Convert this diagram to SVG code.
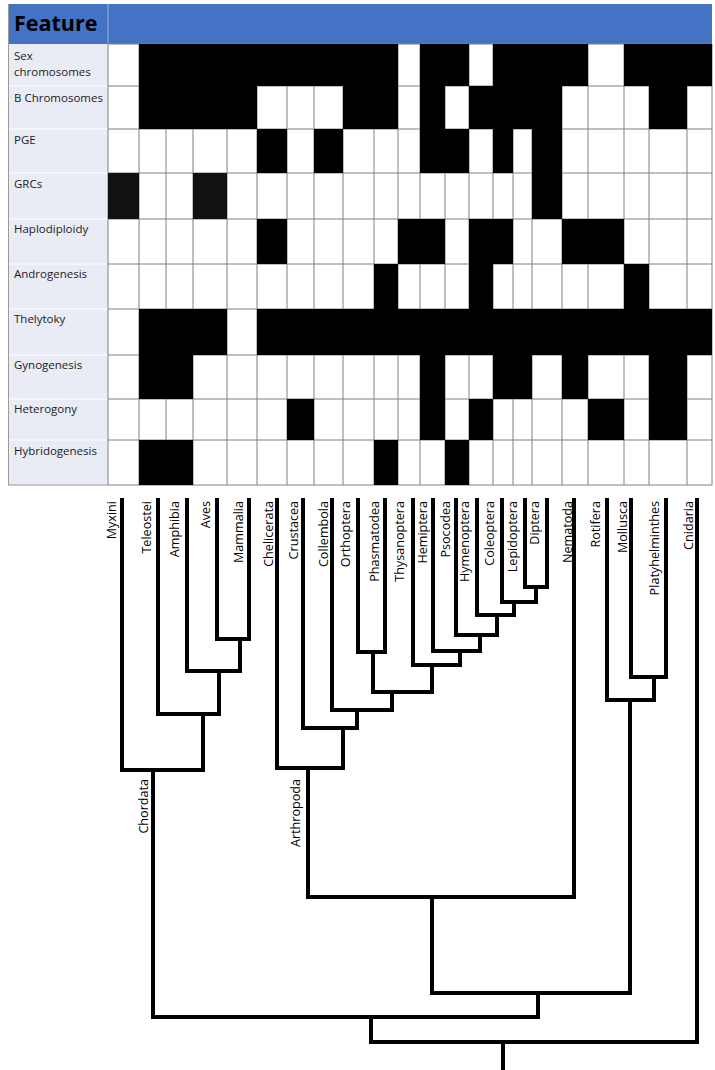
<svg xmlns="http://www.w3.org/2000/svg" width="715" height="1070" viewBox="0 0 715 1070">
<style>
.hdr{fill:#4472c4}
.lab{fill:#e9ebf5}
.sep{stroke:#ffffff;stroke-width:1.2}
.grid{stroke:#808080;stroke-width:1;fill:none}
.blk{fill:#000000}
.ftxt{font-family:"Open Sans","Liberation Sans",sans-serif;font-size:11.5px;fill:#222222}
.htxt{font-family:"Open Sans","Liberation Sans",sans-serif;font-size:21.5px;font-weight:bold;fill:#000000}
.tip{font-family:"Open Sans","Liberation Sans",sans-serif;font-size:12.6px;fill:#000000}
.br{fill:none;stroke:#000000;stroke-width:4;stroke-linecap:square;stroke-linejoin:miter}
</style>
<rect width="715" height="1070" fill="#ffffff"/>

<g id="header">
<rect class="hdr" x="8" y="4" width="704" height="40"/>
<line x1="108" y1="4" x2="108" y2="44" stroke="#9db3e0" stroke-width="1"/>
<text class="htxt" x="14" y="31">Feature</text>
</g>

<g id="feature-labels">
<rect class="lab" x="8" y="44" width="100" height="441"/>
<g class="sep">
<line x1="8" y1="86" x2="108" y2="86"/><line x1="8" y1="129" x2="108" y2="129"/><line x1="8" y1="173" x2="108" y2="173"/><line x1="8" y1="219" x2="108" y2="219"/><line x1="8" y1="264" x2="108" y2="264"/><line x1="8" y1="309" x2="108" y2="309"/><line x1="8" y1="355" x2="108" y2="355"/><line x1="8" y1="399" x2="108" y2="399"/><line x1="8" y1="440" x2="108" y2="440"/>
</g>
<line x1="8.5" y1="4" x2="8.5" y2="485" stroke="#9a9a9a" stroke-width="1"/>
<line x1="8" y1="485" x2="108" y2="485" stroke="#9a9a9a" stroke-width="1"/>
<text class="ftxt" x="14" y="60">Sex</text>
<text class="ftxt" x="14" y="76">chromosomes</text>
<text class="ftxt" x="14" y="102">B Chromosomes</text>
<text class="ftxt" x="14" y="144">PGE</text>
<text class="ftxt" x="14" y="188">GRCs</text>
<text class="ftxt" x="14" y="233">Haplodiploidy</text>
<text class="ftxt" x="14" y="278">Androgenesis</text>
<text class="ftxt" x="14" y="323">Thelytoky</text>
<text class="ftxt" x="14" y="369">Gynogenesis</text>
<text class="ftxt" x="14" y="413">Heterogony</text>
<text class="ftxt" x="14" y="455">Hybridogenesis</text>
</g>

<g id="matrix">
<rect x="108" y="44" width="604" height="441" fill="#ffffff"/>
<g class="grid">
<line x1="108" y1="44" x2="108" y2="485"/><line x1="139" y1="44" x2="139" y2="485"/><line x1="166" y1="44" x2="166" y2="485"/><line x1="193" y1="44" x2="193" y2="485"/><line x1="227" y1="44" x2="227" y2="485"/><line x1="257" y1="44" x2="257" y2="485"/><line x1="287" y1="44" x2="287" y2="485"/><line x1="314" y1="44" x2="314" y2="485"/><line x1="343" y1="44" x2="343" y2="485"/><line x1="374" y1="44" x2="374" y2="485"/><line x1="398" y1="44" x2="398" y2="485"/><line x1="420" y1="44" x2="420" y2="485"/><line x1="445" y1="44" x2="445" y2="485"/><line x1="469" y1="44" x2="469" y2="485"/><line x1="493" y1="44" x2="493" y2="485"/><line x1="513" y1="44" x2="513" y2="485"/><line x1="532" y1="44" x2="532" y2="485"/><line x1="562" y1="44" x2="562" y2="485"/><line x1="588" y1="44" x2="588" y2="485"/><line x1="624" y1="44" x2="624" y2="485"/><line x1="649" y1="44" x2="649" y2="485"/><line x1="687" y1="44" x2="687" y2="485"/><line x1="712" y1="44" x2="712" y2="485"/>
<line x1="108" y1="44" x2="712" y2="44"/><line x1="108" y1="86" x2="712" y2="86"/><line x1="108" y1="129" x2="712" y2="129"/><line x1="108" y1="173" x2="712" y2="173"/><line x1="108" y1="219" x2="712" y2="219"/><line x1="108" y1="264" x2="712" y2="264"/><line x1="108" y1="309" x2="712" y2="309"/><line x1="108" y1="355" x2="712" y2="355"/><line x1="108" y1="399" x2="712" y2="399"/><line x1="108" y1="440" x2="712" y2="440"/><line x1="108" y1="485" x2="712" y2="485"/>
</g>
<g id="row-sex" class="blk">
<rect x="139" y="44" width="259" height="42"/><rect x="420" y="44" width="49" height="42"/><rect x="493" y="44" width="95" height="42"/><rect x="624" y="44" width="88" height="42"/>
</g>
<g id="row-b" class="blk">
<rect x="139" y="86" width="118" height="43"/><rect x="343" y="86" width="55" height="43"/><rect x="420" y="86" width="25" height="43"/><rect x="469" y="86" width="93" height="43"/><rect x="649" y="86" width="38" height="43"/>
</g>
<g id="row-pge" class="blk">
<rect x="257" y="129" width="30" height="44"/><rect x="314" y="129" width="29" height="44"/><rect x="420" y="129" width="49" height="44"/><rect x="493" y="129" width="20" height="44"/><rect x="532" y="129" width="30" height="44"/>
</g>
<g id="row-grc">
<rect x="108" y="173" width="31" height="46" fill="#111111"/><rect x="193" y="173" width="34" height="46" fill="#111111"/><rect class="blk" x="532" y="173" width="30" height="46"/>
</g>
<g id="row-haplo" class="blk">
<rect x="257" y="219" width="30" height="45"/><rect x="398" y="219" width="47" height="45"/><rect x="469" y="219" width="44" height="45"/><rect x="562" y="219" width="62" height="45"/>
</g>
<g id="row-andro" class="blk">
<rect x="374" y="264" width="24" height="45"/><rect x="469" y="264" width="24" height="45"/><rect x="624" y="264" width="25" height="45"/>
</g>
<g id="row-thely" class="blk">
<rect x="139" y="309" width="88" height="46"/><rect x="257" y="309" width="455" height="46"/>
</g>
<g id="row-gyno" class="blk">
<rect x="139" y="355" width="54" height="44"/><rect x="420" y="355" width="25" height="44"/><rect x="493" y="355" width="39" height="44"/><rect x="562" y="355" width="26" height="44"/><rect x="649" y="355" width="38" height="44"/>
</g>
<g id="row-hetero" class="blk">
<rect x="287" y="399" width="27" height="41"/><rect x="420" y="399" width="25" height="41"/><rect x="469" y="399" width="24" height="41"/><rect x="588" y="399" width="36" height="41"/><rect x="649" y="399" width="38" height="41"/>
</g>
<g id="row-hybrid" class="blk">
<rect x="139" y="440" width="54" height="45"/><rect x="374" y="440" width="24" height="45"/><rect x="445" y="440" width="24" height="45"/>
</g>
</g>

<g id="connectors" class="br">
<path d="M217 500 V639 H249 V500"/>
<path d="M240 639 V671 H187 V500"/>
<path d="M219 671 V714 H158 V500"/>
<path d="M203 714 V770 H122 V500"/>
<path d="M153 770 V1017"/>
<path d="M525 500 V587 H547 V500"/>
<path d="M536 587 V602 H502 V500"/>
<path d="M514 602 V615 H477 V500"/>
<path d="M497 615 V635 H456 V500"/>
<path d="M480 635 V651 H433 V500"/>
<path d="M460 651 V665 H413 V500"/>
<path d="M358 500 V652 H385 V500"/>
<path d="M373 652 V692 H432 V665"/>
<path d="M392 692 V710 H332 V500"/>
<path d="M357 710 V728 H303 V500"/>
<path d="M343 728 V768 H277 V500"/>
<path d="M308 768 V897 H574 V500"/>
<path d="M432 897 V993 H630 V700"/>
<path d="M631 500 V677 H666 V500"/>
<path d="M654 677 V700 H607 V500"/>
<path d="M538 993 V1017 H153"/>
<path d="M371 1017 V1042 H697 V500"/>
<path d="M503 1042 V1072"/>
</g>

<g id="tip-myxini"><text class="tip" text-anchor="end" transform="translate(116,501) rotate(-90)">Myxini</text></g>
<g id="tip-teleostei"><text class="tip" text-anchor="end" transform="translate(151,501) rotate(-90)">Teleostei</text></g>
<g id="tip-amphibia"><text class="tip" text-anchor="end" transform="translate(179,501) rotate(-90)">Amphibia</text></g>
<g id="tip-aves"><text class="tip" text-anchor="end" transform="translate(210,501) rotate(-90)">Aves</text></g>
<g id="tip-mammalia"><text class="tip" text-anchor="end" transform="translate(243,501) rotate(-90)">Mammalia</text></g>
<g id="tip-chelicerata"><text class="tip" text-anchor="end" transform="translate(273,501) rotate(-90)">Chelicerata</text></g>
<g id="tip-crustacea"><text class="tip" text-anchor="end" transform="translate(298,501) rotate(-90)">Crustacea</text></g>
<g id="tip-collembola"><text class="tip" text-anchor="end" transform="translate(328,501) rotate(-90)">Collembola</text></g>
<g id="tip-orthoptera"><text class="tip" text-anchor="end" transform="translate(350,501) rotate(-90)">Orthoptera</text></g>
<g id="tip-phasmatodea"><text class="tip" text-anchor="end" transform="translate(379,501) rotate(-90)">Phasmatodea</text></g>
<g id="tip-thysanoptera"><text class="tip" text-anchor="end" transform="translate(404,501) rotate(-90)">Thysanoptera</text></g>
<g id="tip-hemiptera"><text class="tip" text-anchor="end" transform="translate(427,501) rotate(-90)">Hemiptera</text></g>
<g id="tip-psocodea"><text class="tip" text-anchor="end" transform="translate(450,501) rotate(-90)">Psocodea</text></g>
<g id="tip-hymenoptera"><text class="tip" text-anchor="end" transform="translate(469,501) rotate(-90)">Hymenoptera</text></g>
<g id="tip-coleoptera"><text class="tip" text-anchor="end" transform="translate(494,501) rotate(-90)">Coleoptera</text></g>
<g id="tip-lepidoptera"><text class="tip" text-anchor="end" transform="translate(517,501) rotate(-90)">Lepidoptera</text></g>
<g id="tip-diptera"><text class="tip" text-anchor="end" transform="translate(539,501) rotate(-90)">Diptera</text></g>
<g id="tip-nematoda"><text class="tip" text-anchor="end" transform="translate(572,501) rotate(-90)">Nematoda</text></g>
<g id="tip-rotifera"><text class="tip" text-anchor="end" transform="translate(600,501) rotate(-90)">Rotifera</text></g>
<g id="tip-mollusca"><text class="tip" text-anchor="end" transform="translate(627,501) rotate(-90)">Mollusca</text></g>
<g id="tip-platyhelminthes"><text class="tip" text-anchor="end" transform="translate(659,501) rotate(-90)">Platyhelminthes</text></g>
<g id="tip-cnidaria"><text class="tip" text-anchor="end" transform="translate(693,501) rotate(-90)">Cnidaria</text></g>
<g id="clade-chordata"><text class="tip" text-anchor="end" transform="translate(148,779) rotate(-90)">Chordata</text></g>
<g id="clade-arthropoda"><text class="tip" text-anchor="end" transform="translate(300,779) rotate(-90)">Arthropoda</text></g>
</svg>
